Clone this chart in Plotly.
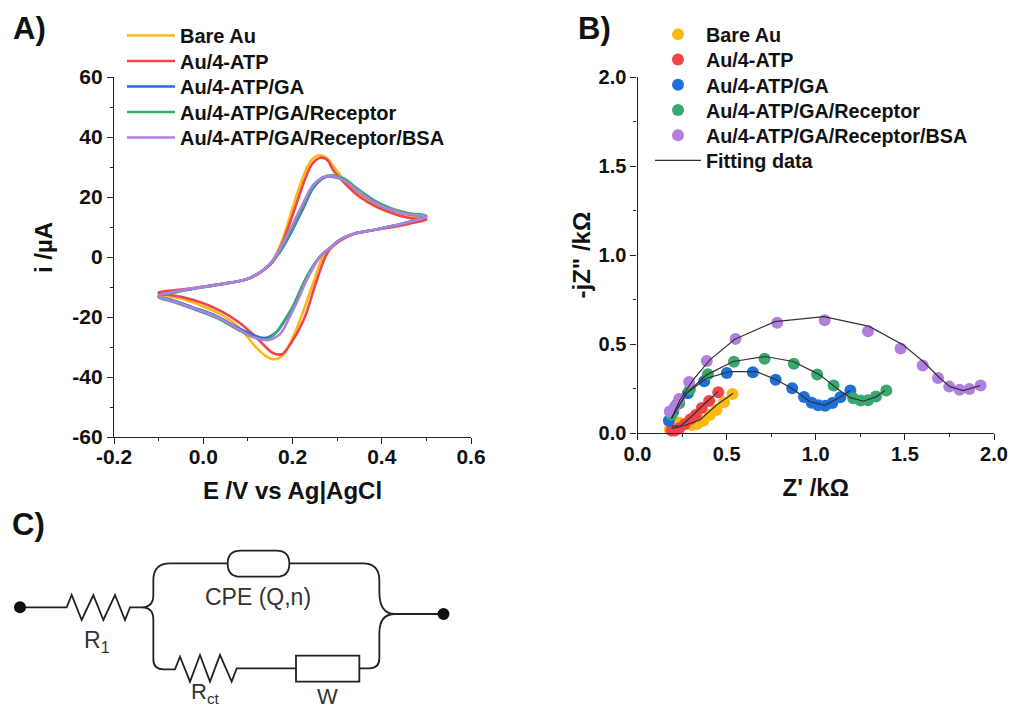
import plotly.graph_objects as go

W, H = 1010, 711

NAMES = ["Bare Au", "Au/4-ATP", "Au/4-ATP/GA", "Au/4-ATP/GA/Receptor", "Au/4-ATP/GA/Receptor/BSA"]
COLORS = ["#FDB913", "#F0434A", "#1F6FDB", "#37A96C", "#B07FDF"]

# Panel A: cyclic voltammograms
cv_bare_e = [-0.1, -0.045, 0.03, 0.097, 0.127, 0.15, 0.165, 0.18, 0.201, 0.224, 0.24, 0.257, 0.275, 0.295, 0.321, 0.351, 0.389, 0.433, 0.47, 0.5,
             0.47, 0.441, 0.381, 0.336, 0.306, 0.284, 0.268, 0.246, 0.217, 0.201, 0.179, 0.161, 0.142, 0.12, 0.082, 0.044, 0.0, -0.045, -0.1]
cv_bare_i = [-12.3, -11, -9.3, -7.4, -5.2, -2.3, 1.5, 6.8, 16.8, 26.8, 31.8, 33.8, 33.2, 29.6, 24.7, 20.7, 17.4, 14.8, 13.4, 12.8,
             11.8, 10.7, 9, 7.7, 5.7, 3, 0.1, -8.8, -21, -26.7, -32.7, -34.1, -33.2, -30.4, -23.7, -19.5, -16.5, -14, -12.3]
cv_atp_e = [-0.1, -0.045, 0.03, 0.097, 0.127, 0.155, 0.168, 0.183, 0.206, 0.229, 0.244, 0.262, 0.278, 0.291, 0.321, 0.351, 0.389, 0.433, 0.47, 0.5,
            0.47, 0.441, 0.381, 0.336, 0.306, 0.284, 0.272, 0.252, 0.225, 0.194, 0.176, 0.156, 0.12, 0.082, 0.044, 0.0, -0.045, -0.1]
cv_atp_i = [-11.9, -10.8, -9.2, -7.4, -5.2, -1.8, 1.6, 6.8, 16.5, 26.3, 31, 33.1, 32.3, 29, 24, 20, 16.6, 14.1, 12.8, 12.4,
            11.4, 10.4, 8.9, 7.6, 5.4, 2.6, -0.5, -8.8, -21, -29.3, -32.4, -32, -27, -22, -18.4, -15.4, -13.4, -11.9]
cv_ga_e = [-0.1, -0.045, 0.03, 0.097, 0.127, 0.15, 0.17, 0.194, 0.224, 0.246, 0.269, 0.288, 0.314, 0.344, 0.381, 0.418, 0.456, 0.5,
           0.47, 0.441, 0.381, 0.336, 0.306, 0.284, 0.265, 0.232, 0.201, 0.18, 0.165, 0.138, 0.112, 0.075, 0.03, -0.023, -0.075, -0.1]
cv_ga_i = [-13.2, -11.2, -9.3, -7.4, -5.2, -2.3, 1.3, 7.3, 16.2, 22.9, 26.3, 26.8, 25.7, 22.3, 18.4, 15.9, 14.3, 13.4,
           12, 10.9, 9, 7.7, 5.7, 3, 0.7, -6.6, -16.6, -21.8, -24.9, -27, -26, -23.4, -19.7, -16.8, -14.1, -13.2]
cv_rec_e = [-0.1, -0.045, 0.03, 0.097, 0.127, 0.15, 0.17, 0.194, 0.224, 0.246, 0.269, 0.29, 0.316, 0.346, 0.383, 0.42, 0.458, 0.5,
            0.47, 0.441, 0.381, 0.336, 0.306, 0.284, 0.265, 0.232, 0.201, 0.18, 0.165, 0.143, 0.112, 0.075, 0.03, -0.023, -0.075, -0.1]
cv_rec_i = [-13.4, -11.2, -9.3, -7.4, -5.2, -2.3, 1.6, 7.8, 16.8, 23.3, 26.6, 27.2, 26.1, 22.7, 18.9, 16.3, 14.7, 13.7,
            12.1, 10.9, 9, 7.7, 5.7, 3, 0.7, -6.6, -16.4, -21.6, -24.9, -27.4, -26.7, -24, -20.3, -17.3, -14.6, -13.4]
cv_bsa_e = [-0.1, -0.045, 0.03, 0.097, 0.127, 0.15, 0.17, 0.194, 0.224, 0.246, 0.269, 0.288, 0.314, 0.344, 0.381, 0.418, 0.456, 0.5,
            0.47, 0.441, 0.381, 0.336, 0.306, 0.284, 0.265, 0.232, 0.217, 0.194, 0.172, 0.145, 0.112, 0.075, 0.03, -0.023, -0.075, -0.1]
cv_bsa_i = [-13, -11, -9.3, -7.4, -5.2, -2.2, 2.2, 9, 18, 24, 26.6, 26.9, 25.7, 22.3, 18.4, 15.9, 14.3, 13.4,
            12, 10.9, 9, 7.7, 5.7, 3, 0.7, -7.6, -12.7, -19.9, -25.7, -27.7, -26.7, -23.7, -19.9, -17, -14.3, -13]

# Panel B: Nyquist points
eis_bare_re = [0.181, 0.228, 0.266, 0.303, 0.335, 0.369, 0.406, 0.443, 0.486, 0.533]
eis_bare_im = [0.022, 0.06, 0.052, 0.047, 0.052, 0.071, 0.103, 0.131, 0.174, 0.221]
eis_atp_re = [0.191, 0.21, 0.234, 0.266, 0.297, 0.327, 0.361, 0.402, 0.453]
eis_atp_im = [0.015, 0.015, 0.028, 0.052, 0.079, 0.103, 0.142, 0.182, 0.23]
eis_ga_re = [0.176, 0.2, 0.223, 0.283, 0.374, 0.501, 0.647, 0.775, 0.868, 0.934, 0.977, 1.014, 1.053, 1.093, 1.138, 1.194]
eis_ga_im = [0.071, 0.122, 0.165, 0.225, 0.292, 0.339, 0.343, 0.301, 0.253, 0.204, 0.172, 0.157, 0.155, 0.17, 0.202, 0.24]
eis_rec_re = [0.191, 0.234, 0.294, 0.395, 0.541, 0.713, 0.877, 1.008, 1.1, 1.21, 1.252, 1.293, 1.338, 1.396]
eis_rec_im = [0.103, 0.169, 0.247, 0.331, 0.401, 0.419, 0.39, 0.33, 0.268, 0.197, 0.184, 0.185, 0.206, 0.24]
eis_bsa_re = [0.181, 0.21, 0.234, 0.29, 0.389, 0.55, 0.784, 1.05, 1.293, 1.476, 1.6, 1.686, 1.749, 1.807, 1.862, 1.925]
eis_bsa_im = [0.122, 0.15, 0.193, 0.288, 0.406, 0.53, 0.62, 0.635, 0.573, 0.476, 0.38, 0.311, 0.262, 0.245, 0.249, 0.268]

# Panel B: fitted curves
fit_bare_re = [0.191, 0.256, 0.35, 0.443, 0.537]
fit_bare_im = [0.041, 0.041, 0.075, 0.159, 0.225]
fit_atp_re = [0.191, 0.238, 0.303, 0.369, 0.453]
fit_atp_im = [0.028, 0.037, 0.094, 0.159, 0.234]
fit_ga_re = [0.191, 0.275, 0.387, 0.518, 0.668, 0.78, 0.873, 0.967, 1.051, 1.126, 1.192]
fit_ga_im = [0.084, 0.225, 0.309, 0.346, 0.346, 0.3, 0.247, 0.178, 0.157, 0.197, 0.24]
fit_rec_re = [0.191, 0.275, 0.387, 0.537, 0.715, 0.874, 1.023, 1.117, 1.192, 1.267, 1.341, 1.388]
fit_rec_im = [0.084, 0.225, 0.328, 0.403, 0.431, 0.403, 0.328, 0.253, 0.2, 0.18, 0.206, 0.24]
fit_bsa_re = [0.191, 0.238, 0.312, 0.406, 0.546, 0.771, 1.046, 1.3, 1.491, 1.603, 1.697, 1.753, 1.828, 1.921]
fit_bsa_im = [0.084, 0.187, 0.3, 0.412, 0.528, 0.627, 0.655, 0.6, 0.496, 0.403, 0.309, 0.262, 0.24, 0.268]

TICK_A_Y = [-60, -40, -20, 0, 20, 40, 60]
TICK_A_Y_TEXT = ["-60", "-40", "-20", "0", "20", "40", "60"]
TICK_A_X = [-0.2, 0.0, 0.2, 0.4, 0.6]
TICK_A_X_TEXT = ["-0.2", "0.0", "0.2", "0.4", "0.6"]
TICK_B = [0.0, 0.5, 1.0, 1.5, 2.0]

FONT = "Liberation Sans"
INK = "#111111"


def px(x):
    return x / W


def py(y):
    return 1 - y / H


fig = go.Figure()

cv_series = [(cv_bare_e, cv_bare_i), (cv_atp_e, cv_atp_i), (cv_ga_e, cv_ga_i), (cv_rec_e, cv_rec_i), (cv_bsa_e, cv_bsa_i)]
for i, (e, cur) in enumerate(cv_series):
    fig.add_trace(go.Scatter(x=e, y=cur, mode="lines", name=NAMES[i], xaxis="x", yaxis="y", legend="legend",
                             line=dict(color=COLORS[i], width=2.6, shape="spline", smoothing=1.0)))

eis_series = [(eis_bare_re, eis_bare_im), (eis_atp_re, eis_atp_im), (eis_ga_re, eis_ga_im), (eis_rec_re, eis_rec_im), (eis_bsa_re, eis_bsa_im)]
for i, (re, im) in enumerate(eis_series):
    fig.add_trace(go.Scatter(x=re, y=im, mode="markers", name=NAMES[i], xaxis="x2", yaxis="y2", legend="legend2",
                             cliponaxis=False, marker=dict(color=COLORS[i], size=12, line=dict(width=0))))

fit_series = [(fit_bare_re, fit_bare_im), (fit_atp_re, fit_atp_im), (fit_ga_re, fit_ga_im), (fit_rec_re, fit_rec_im), (fit_bsa_re, fit_bsa_im)]
for i, (re, im) in enumerate(fit_series):
    fig.add_trace(go.Scatter(x=re, y=im, mode="lines", name="Fitting data", xaxis="x2", yaxis="y2", legend="legend2",
                             showlegend=i == 0, line=dict(color="#333333", width=1.2)))

axis_style = dict(showgrid=False, zeroline=False, showline=True, linecolor="#222222", linewidth=1.2, automargin=False,
                  ticks="outside", ticklen=6, tickwidth=1.2, tickcolor="#222222")
title_font = dict(family=FONT, size=24, color=INK, weight="bold")
tick_a = dict(family=FONT, size=21, color=INK, weight="bold")
tick_b = dict(family=FONT, size=20, color=INK, weight="bold")
minor = dict(ticks="outside", ticklen=3, tickwidth=1.2, tickcolor="#222222", showgrid=False)

legend_style = dict(bgcolor="rgba(0,0,0,0)", borderwidth=0, xanchor="left", yanchor="top", traceorder="normal")

fig.update_layout(
    width=W, height=H, autosize=False, paper_bgcolor="white", plot_bgcolor="rgba(0,0,0,0)",
    margin=dict(l=0, r=0, t=0, b=0), showlegend=True,
    xaxis=dict(domain=[px(114), px(471)], range=[-0.2, 0.6], anchor="y", tickvals=TICK_A_X, ticktext=TICK_A_X_TEXT, tickfont=tick_a,
               ticklabelstandoff=-5, minor=dict(dtick=0.1, **minor),
               title=dict(text="E /V vs Ag|AgCl", font=title_font, standoff=14), **axis_style),
    yaxis=dict(domain=[py(437), py(77)], range=[-60, 60], anchor="x", tickvals=TICK_A_Y, ticktext=TICK_A_Y_TEXT, tickfont=tick_a,
               minor=dict(dtick=10, **minor), **axis_style),
    xaxis2=dict(domain=[px(637.5), px(994)], range=[0, 2], anchor="y2", tickvals=TICK_B, tickformat=".1f", tickfont=tick_b,
                ticklabelstandoff=-3, minor=dict(dtick=0.25, **minor),
                title=dict(text="Z' /kΩ", font=title_font, standoff=14), **axis_style),
    yaxis2=dict(domain=[py(433.3), py(77)], range=[0, 2], anchor="x2", tickvals=TICK_B, tickformat=".1f", tickfont=tick_b,
                minor=dict(dtick=0.25, **minor), title=dict(text='-jZ" /kΩ', font=title_font, standoff=1), **axis_style),
    legend=dict(x=px(122), y=py(16), itemwidth=48, font=dict(family=FONT, size=20, color=INK, weight="bold"), **legend_style),
    legend2=dict(x=px(650), y=py(15), itemwidth=46, font=dict(family=FONT, size=19.8, color=INK, weight="bold"), **legend_style),
)


def to_path(cmds):
    out = []
    for c in cmds:
        if isinstance(c, str):
            out.append(c)
        else:
            out.append(f"{px(c[0] / 3):.5f},{py(500 + c[1] / 3):.5f}")
    return " ".join(out)


# Panel C: equivalent circuit, coordinates in a 3x crop of the lower-left region
wire = [
    "M", (60, 322), "L", (200, 322), "L", (215, 285), "L", (245, 360), "L", (280, 285), "L", (310, 360), "L", (345, 285),
    "L", (375, 360), "L", (390, 322), "L", (425, 322), "Q", (460, 322), (460, 285), "L", (460, 240), "Q", (460, 190), (510, 190),
    "L", (683, 190),
    "M", (868, 190), "L", (1088, 190), "Q", (1138, 190), (1138, 240), "L", (1138, 275), "Q", (1138, 342), (1185, 342), "L", (1330, 342),
    "M", (425, 322), "Q", (460, 322), (460, 358), "L", (460, 478), "Q", (460, 508), (490, 508), "L", (525, 508),
    "L", (540, 470), "L", (570, 545), "L", (600, 465), "L", (630, 545), "L", (660, 465), "L", (695, 545), "L", (710, 505), "L", (888, 505),
    "M", (1078, 505), "L", (1108, 505), "Q", (1138, 505), (1138, 475), "L", (1138, 400), "Q", (1138, 342), (1185, 342),
]
cpe = ["M", (722, 152), "L", (829, 152), "Q", (868, 152), (868, 191), "Q", (868, 230), (829, 230), "L", (722, 230),
       "Q", (683, 230), (683, 191), "Q", (683, 152), (722, 152), "Z"]
warburg = ["M", (888, 467), "L", (1078, 467), "L", (1078, 545), "L", (888, 545), "Z"]
for part in (wire, cpe, warburg):
    fig.add_shape(type="path", xref="paper", yref="paper", path=to_path(part), line=dict(color="#222222", width=1.8),
                  fillcolor="rgba(0,0,0,0)", layer="above")
for cx, cy in ((20, 607.3), (443.5, 614)):
    fig.add_shape(type="circle", xref="paper", yref="paper", x0=px(cx - 6), x1=px(cx + 6), y0=py(cy + 6), y1=py(cy - 6),
                  fillcolor="#111111", line=dict(width=0))


def note(text, x, y, size, bold=False, color=INK, angle=0):
    font = dict(family=FONT, size=size, color=color)
    if bold:
        font["weight"] = "bold"
    fig.add_annotation(text=text, x=px(x), y=py(y), xref="paper", yref="paper", showarrow=False, font=font,
                       xanchor="center", yanchor="middle", textangle=angle)


note("A)", 29, 29, 31, True)
note("B)", 594, 29, 31, True)
note("C)", 28, 524, 31, True)
note("i /µA", 43, 248, 24, True, angle=-90)
note("CPE (Q,n)", 258, 597, 23, color="#333333")
note("R<sub>1</sub>", 97, 641, 23, color="#333333")
note("R<sub>ct</sub>", 205, 693, 22, color="#333333")
note("W", 327, 696, 22, color="#333333")

# Legend rows sit closer together in the reference than the font size allows natively.
POST = """
document.body.style.margin = '0';
[['legend', 25.5], ['legend2', 25.2]].forEach(function (pair) {
  var box = document.querySelector('g.' + pair[0]);
  if (!box) return;
  var first = null;
  box.querySelectorAll('g.traces').forEach(function (row, i) {
    var m = /translate\\(([-\\d.]+),\\s*([-\\d.]+)\\)/.exec(row.getAttribute('transform'));
    if (!m) return;
    if (first === null) first = parseFloat(m[2]);
    row.setAttribute('transform', 'translate(' + m[1] + ',' + (first + i * pair[1]) + ')');
  });
});
"""
fig.write_html("out.html", config={"displayModeBar": False}, post_script=POST)
